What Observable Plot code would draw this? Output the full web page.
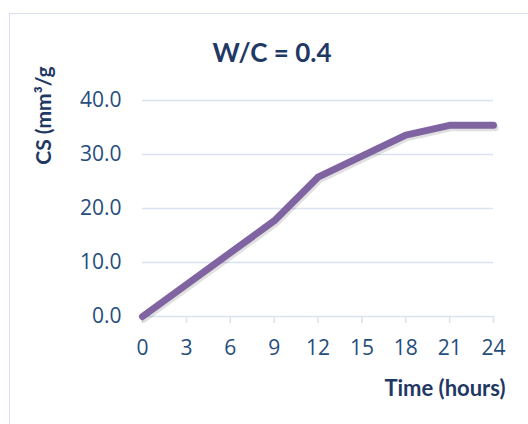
<!DOCTYPE html>
<html><head><meta charset="utf-8">
<script src="https://cdn.jsdelivr.net/npm/d3@7"></script>
<script src="https://cdn.jsdelivr.net/npm/@observablehq/plot@0.6"></script>
<style>
body{margin:0;background:#fff;}
#wrap{position:relative;width:528px;height:424px;overflow:hidden;}
#frame{position:absolute;left:9px;top:13px;width:700px;height:700px;border:1.5px solid #d6e0f0;box-sizing:border-box;}
#chart{position:absolute;left:0;top:0;}
</style></head><body>
<div id="wrap"><div id="frame"></div><div id="chart"></div></div>
<script>
const hours = [0, 9, 12, 18, 21, 24];
const cs = [0, 17.7, 25.8, 33.6, 35.4, 35.4];
const xTicks = [0, 3, 6, 9, 12, 15, 18, 21, 24];
const yTicks = [0, 10, 20, 30, 40];
const title = "W/C = 0.4";
const xLabel = "Time (hours)";
const yLabel = "CS (mm³/g";

const data = hours.map((h, i) => ({h, v: cs[i]}));
const navy = "#1f3864";
const tickText = "#254d7d";
const gridCol = "#d9e2f1";
const tickFont = "'Open Sans', sans-serif";

const chart = Plot.plot({
  width: 528, height: 424,
  marginLeft: 142, marginRight: 35, marginTop: 100, marginBottom: 108,
  style: {fontFamily: "Lato, 'Open Sans', sans-serif", background: "transparent", overflow: "visible"},
  x: {domain: [0, 24], label: null},
  y: {domain: [0, 40], label: null},
  marks: [
    Plot.gridY(yTicks, {stroke: gridCol, strokeOpacity: 1, strokeWidth: 1.5}),
    Plot.axisX({ticks: xTicks, tickSize: 7, tickPadding: 17, fontSize: 21, fontFamily: tickFont, stroke: gridCol, strokeWidth: 1.5, fill: tickText, label: null}),
    Plot.axisY({ticks: yTicks, tickSize: 0, tickPadding: 21, fontSize: 21, fontFamily: tickFont, fill: tickText, tickFormat: d => d.toFixed(1), label: null}),
    Plot.line(data, {x: "h", y: "v", stroke: "#000", strokeOpacity: 0.12, strokeWidth: 7, dx: 1.5, dy: 2.5}),
    Plot.line(data, {x: "h", y: "v", stroke: "#8064a2", strokeWidth: 7}),
    Plot.text([title], {frameAnchor: "top", dx: -46, dy: -47, fontSize: 26, fontWeight: "bold", fill: navy, lineAnchor: "middle"}),
    Plot.text([xLabel], {frameAnchor: "bottom-right", textAnchor: "end", dx: 12, dy: 72, fontSize: 22, fontWeight: "bold", fill: navy, lineAnchor: "middle"}),
    Plot.text([yLabel], {frameAnchor: "top-left", rotate: -90, dx: -98, dy: 15, fontSize: 21, fontWeight: "bold", fill: navy, lineAnchor: "middle", textAnchor: "middle"})
  ]
});
document.getElementById("chart").appendChild(chart);
// force layout so fonts are resolved before the picture is taken
chart.querySelectorAll("text").forEach(t => t.getBoundingClientRect());
</script>
</body></html>
